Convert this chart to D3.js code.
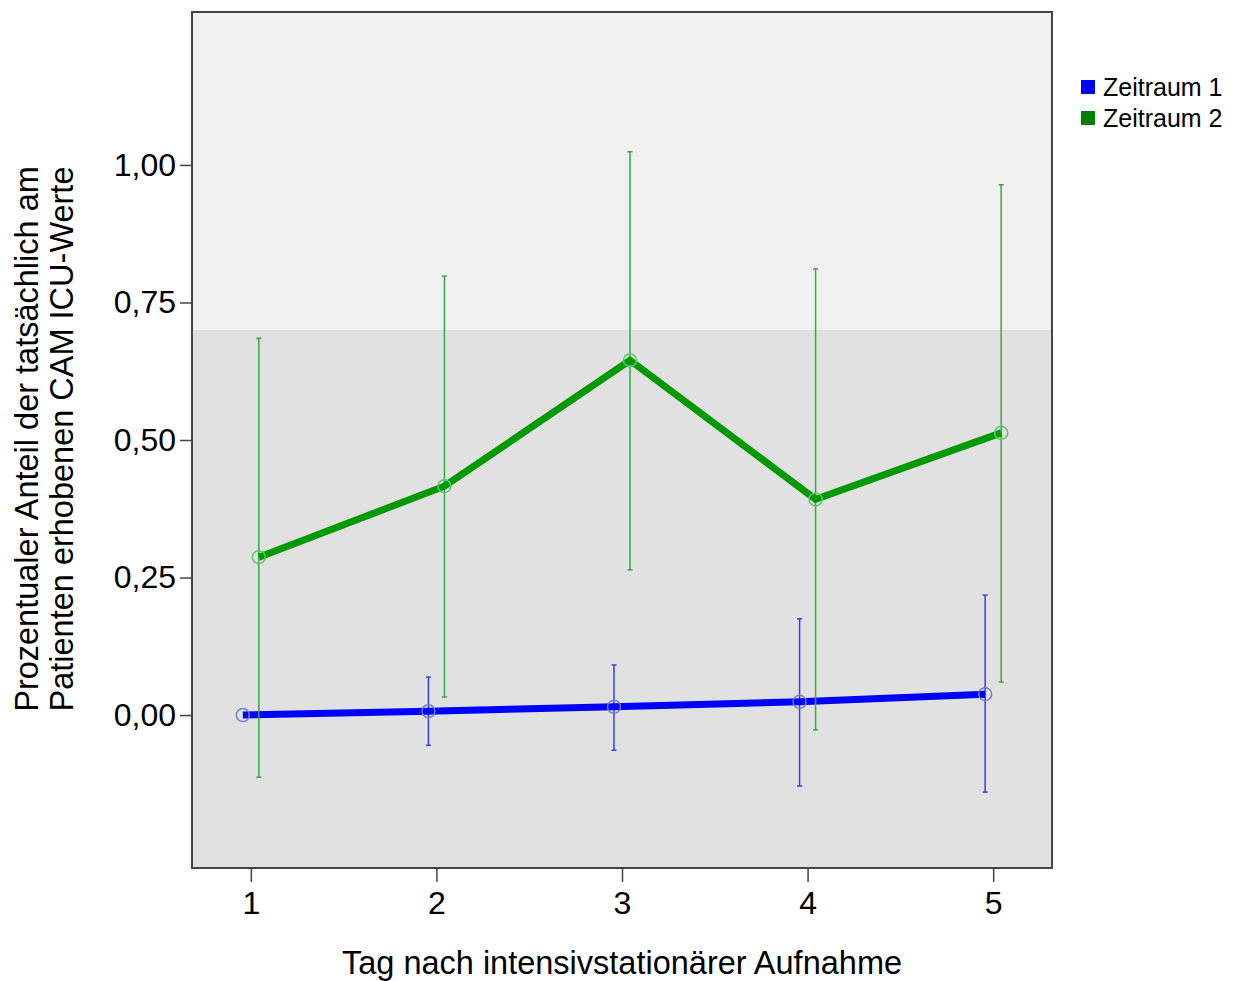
<!DOCTYPE html>
<html>
<head>
<meta charset="utf-8">
<script src="https://cdn.jsdelivr.net/npm/d3@7"></script>
<style>
  body { margin: 0; background: #ffffff; }
  text { font-family: "Liberation Sans", Arial, sans-serif; fill: #000; }
</style>
</head>
<body>
<div id="chart"></div>
<script>
// data
var days = ["1", "2", "3", "4", "5"];
var seriesNames = ["Zeitraum 1", "Zeitraum 2"];
var mean1 = [0.000, 0.007, 0.015, 0.024, 0.038];
var low1  = [null, -0.055, -0.064, -0.129, -0.140];
var high1 = [null, 0.069, 0.091, 0.175, 0.218];
var mean2 = [0.287, 0.416, 0.645, 0.392, 0.513];
var low2  = [-0.113, 0.033, 0.264, -0.027, 0.060];
var high2 = [0.685, 0.798, 1.024, 0.811, 0.964];
var yTicks = [0, 0.25, 0.5, 0.75, 1.0];
var bandValue = 0.70;   // upper, lighter area of the background

function init(){
    var w = 1239, h = 981;
    var left = 192, right = 1052, top = 12, bottom = 868;

    var svg = d3.select("#chart")
        .append("svg")
        .attr("width", w)
        .attr("height", h);

    var xScale = d3.scalePoint()
        .domain(days)
        .range([left, right])
        .padding(0.317);

    var yScale = d3.scaleLinear()
        .domain([-0.278, 1.278])
        .range([bottom, top]);

    var fmt = function(d){ return d3.format(".2f")(d).replace(".", ","); };

    // background
    svg.append("rect")
        .attr("x", left).attr("y", top)
        .attr("width", right - left).attr("height", bottom - top)
        .style("fill", "#e1e1e1");
    svg.append("rect")
        .attr("x", left).attr("y", top)
        .attr("width", right - left).attr("height", yScale(bandValue) - top)
        .style("fill", "#f0f0f0");

    var series = [
        { name: seriesNames[0], mean: mean1, low: low1, high: high1, dx: -8,
          line: "#0000ff", bar: "#3a3ae8", circle: "#7080c8", key: "#0000ff" },
        { name: seriesNames[1], mean: mean2, low: low2, high: high2, dx: 8,
          line: "#009900", bar: "#33aa44", circle: "#5cc86a", key: "#008000" }
    ];

    series.forEach(function(s){
        var pts = days.map(function(d, i){
            return { x: xScale(d) + s.dx, m: s.mean[i], lo: s.low[i], hi: s.high[i] };
        });

        // error bars
        var eb = svg.append("g");
        var withBars = pts.filter(function(p){ return p.lo !== null; });
        eb.selectAll("line.v")
            .data(withBars).enter().append("line")
            .attr("x1", function(p){ return p.x; })
            .attr("x2", function(p){ return p.x; })
            .attr("y1", function(p){ return yScale(p.hi); })
            .attr("y2", function(p){ return yScale(p.lo); })
            .style("stroke", s.bar).style("stroke-width", 1.5);
        ["hi", "lo"].forEach(function(k){
            eb.selectAll("line.c" + k)
                .data(withBars).enter().append("line")
                .attr("x1", function(p){ return p.x - 2.5; })
                .attr("x2", function(p){ return p.x + 2.5; })
                .attr("y1", function(p){ return yScale(p[k]); })
                .attr("y2", function(p){ return yScale(p[k]); })
                .style("stroke", s.bar).style("stroke-width", 1.5);
        });

        // mean line
        var line = d3.line()
            .x(function(p){ return p.x; })
            .y(function(p){ return yScale(p.m); });
        svg.append("path")
            .datum(pts)
            .attr("d", line)
            .style("fill", "none")
            .style("stroke", s.line)
            .style("stroke-width", 7)
            .style("stroke-linejoin", "miter");

        // markers
        svg.append("g").selectAll("circle")
            .data(pts).enter().append("circle")
            .attr("cx", function(p){ return p.x; })
            .attr("cy", function(p){ return yScale(p.m); })
            .attr("r", 6.5)
            .style("fill", "none")
            .style("stroke", s.circle)
            .style("stroke-width", 1.5);
    });

    // frame
    svg.append("rect")
        .attr("x", left).attr("y", top)
        .attr("width", right - left).attr("height", bottom - top)
        .style("fill", "none")
        .style("stroke", "#444")
        .style("stroke-width", 2);

    // y axis
    var yAxis = svg.append("g")
        .attr("transform", "translate(" + left + ",0)")
        .call(d3.axisLeft(yScale).tickValues(yTicks).tickFormat(fmt).tickSize(12).tickPadding(4));
    yAxis.select(".domain").remove();
    yAxis.selectAll("line").style("stroke", "#444").style("stroke-width", 1.5);
    yAxis.selectAll("text")
        .style("font-size", "32px")
        .style("font-family", "'Liberation Sans', Arial, sans-serif");

    // x axis
    var xAxis = svg.append("g")
        .attr("transform", "translate(0," + bottom + ")")
        .call(d3.axisBottom(xScale).tickSize(14).tickPadding(9));
    xAxis.select(".domain").remove();
    xAxis.selectAll("line").style("stroke", "#444").style("stroke-width", 1.5);
    xAxis.selectAll("text")
        .style("font-size", "32px")
        .style("font-family", "'Liberation Sans', Arial, sans-serif");

    // axis titles
    svg.append("text")
        .attr("x", (left + right) / 2)
        .attr("y", 974)
        .attr("text-anchor", "middle")
        .style("font-size", "32.5px")
        .text("Tag nach intensivstationärer Aufnahme");

    var yTitle = svg.append("text")
        .attr("transform", "translate(38,439) rotate(-90)")
        .attr("text-anchor", "middle")
        .style("font-size", "32.5px");
    yTitle.append("tspan").attr("x", 0).attr("y", 0)
        .text("Prozentualer Anteil der tatsächlich am");
    yTitle.append("tspan").attr("x", 0).attr("y", 35)
        .text("Patienten erhobenen CAM ICU-Werte");

    // legend
    svg.selectAll("legendkeys")
        .data(series).enter().append("rect")
        .attr("x", 1081)
        .attr("y", function(d, i){ return 80 + i * 31; })
        .attr("width", 14).attr("height", 14)
        .style("fill", function(d){ return d.key; });
    svg.selectAll("legendlabels")
        .data(series).enter().append("text")
        .attr("x", 1103)
        .attr("y", function(d, i){ return 96 + i * 31; })
        .style("font-size", "25px")
        .text(function(d){ return d.name; });
}
window.onload = init;
</script>
</body>
</html>
